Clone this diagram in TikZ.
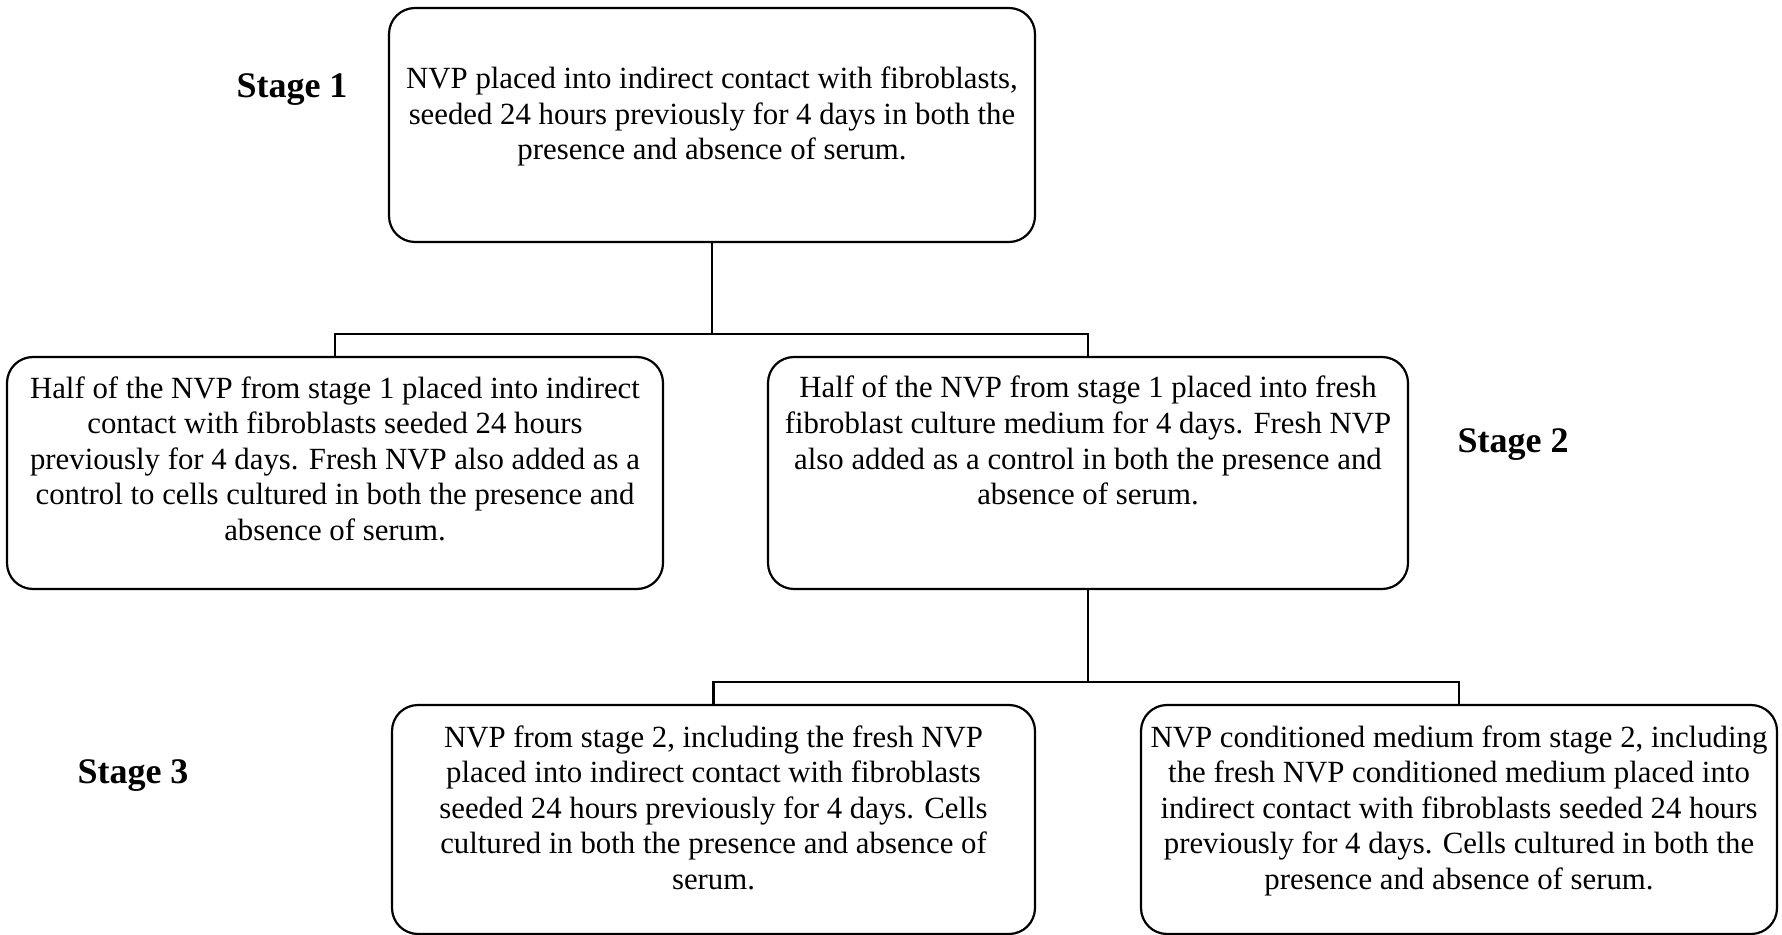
\documentclass[tikz,border=0pt]{standalone}
\usepackage{fontspec}
\setmainfont{Liberation Serif}
\usetikzlibrary{positioning}

\begin{document}
\begin{tikzpicture}[
      x=1pt, y=1pt,
      every node/.style={font=\fontsize{15.4}{17.8}\selectfont},
      block/.style={rectangle, draw, rounded corners=13pt, align=center, inner xsep=0pt, inner ysep=0pt, line width=1.1pt},
      stage/.style={font=\fontsize{18}{21}\selectfont\bfseries, anchor=base},
      link/.style={line width=1.1pt}
    ]
      \useasboundingbox (0,0) rectangle (891,-467.5);

      \node[block, minimum width=323pt, text height=76pt, text depth=41pt] (s1) at (356,-62.5) {NVP placed into indirect contact with fibroblasts,\\seeded 24 hours previously for 4 days in both the\\presence and absence of serum.};
      \node[block, minimum width=328pt, text height=91.7pt, text depth=24.3pt] (s2a) at (167.5,-236.5) {Half of the NVP from stage 1 placed into indirect\\contact with fibroblasts seeded 24 hours\\previously for 4 days. Fresh NVP also added as a\\control to cells cultured in both the presence and\\absence of serum.};
      \node[block, minimum width=320pt, text height=73.9pt, text depth=42.1pt] (s2b) at (544,-236.5) {Half of the NVP from stage 1 placed into fresh\\fibroblast culture medium for 4 days. Fresh NVP\\also added as a control in both the presence and\\absence of serum.};
      \node[block, minimum width=321.5pt, text height=92.2pt, text depth=22.3pt] (s3a) at (356.75,-409.75) {NVP from stage 2, including the fresh NVP\\placed into indirect contact with fibroblasts\\seeded 24 hours previously for 4 days. Cells\\cultured in both the presence and absence of\\serum.};
      \node[block, minimum width=318pt, text height=92.2pt, text depth=22.3pt] (s3b) at (729.5,-409.75) {NVP conditioned medium from stage 2, including\\the fresh NVP conditioned medium placed into\\indirect contact with fibroblasts seeded 24 hours\\previously for 4 days. Cells cultured in both the\\presence and absence of serum.};

      \node[stage] (lab1) at (146,-49) {Stage 1};
      \node[stage] (lab2) at (756.5,-226) {Stage 2};
      \node[stage] (lab3) at (66.5,-391.5) {Stage 3};

      \coordinate (j1) at (s1.south |- 0,-167);
      \coordinate (j2) at (s2b.south |- 0,-341);
      \draw[link] (s1) -- (j1);
      \draw[link] (s2a) |- (j1) -| (s2b);
      \draw[link] (s2b) -- (j2);
      \draw[link] (s3a) |- (j2) -| (s3b);
    \end{tikzpicture}
\end{document}
